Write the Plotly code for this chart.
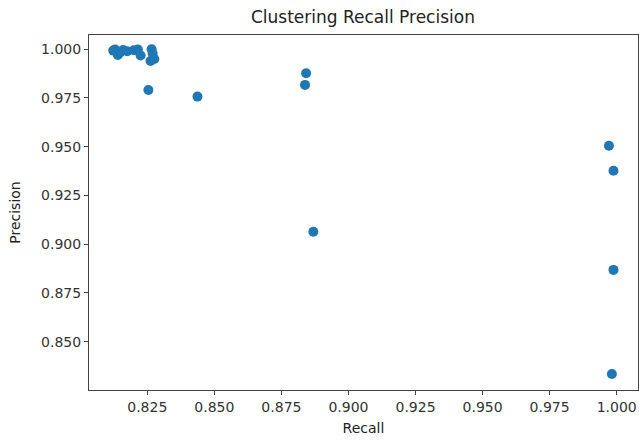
import plotly.graph_objects as go

recall = [0.8123, 0.8130, 0.8140, 0.8150, 0.8160, 0.8175, 0.8200, 0.8215, 0.8225,
          0.8266, 0.8270, 0.8262, 0.8276, 0.8254, 0.8437,
          0.8842, 0.8838, 0.8869,
          0.9971, 0.9988, 0.9988, 0.9982]
precision = [0.9993, 0.9998, 0.9970, 0.9985, 0.9996, 0.9990, 0.9995, 0.9998, 0.9968,
             1.0000, 0.9978, 0.9940, 0.9950, 0.9791, 0.9757,
             0.9877, 0.9817, 0.9064,
             0.9505, 0.9377, 0.8868, 0.8334]

x_ticks = [0.825, 0.850, 0.875, 0.900, 0.925, 0.950, 0.975, 1.000]
y_ticks = [0.850, 0.875, 0.900, 0.925, 0.950, 0.975, 1.000]

fig = go.Figure()
fig.add_trace(go.Scatter(
    x=recall, y=precision, mode="markers",
    marker=dict(color="#1f77b4", size=10, line=dict(width=0)),
    showlegend=False,
))

font = "DejaVu Sans, Liberation Sans, sans-serif"
axis_common = dict(
    showline=True, mirror=True, linecolor="#444", linewidth=1,
    ticks="outside", ticklen=4, tickwidth=1, tickcolor="#444",
    showgrid=False, zeroline=False,
    tickfont=dict(family=font, size=14, color="#333"),
)

fig.update_layout(
    width=639, height=440,
    margin=dict(l=89, r=1, t=35, b=50),
    paper_bgcolor="white", plot_bgcolor="white",
    title=dict(text="Clustering Recall Precision", x=0.568, xanchor="center",
               y=0.962, yanchor="middle",
               font=dict(family=font, size=17, color="#222")),
    xaxis=dict(range=[0.80326, 1.00794], tickvals=x_ticks,
               ticktext=[f"{v:.3f}" for v in x_ticks],
               title=dict(text="Recall", font=dict(family=font, size=14, color="#222"), standoff=9),
               **axis_common),
    yaxis=dict(range=[0.8252, 1.0073], tickvals=y_ticks,
               ticktext=[f"{v:.3f}" for v in y_ticks],
               title=dict(text="Precision", font=dict(family=font, size=14, color="#222"), standoff=17),
               **axis_common),
)

fig.write_html("out.html")
